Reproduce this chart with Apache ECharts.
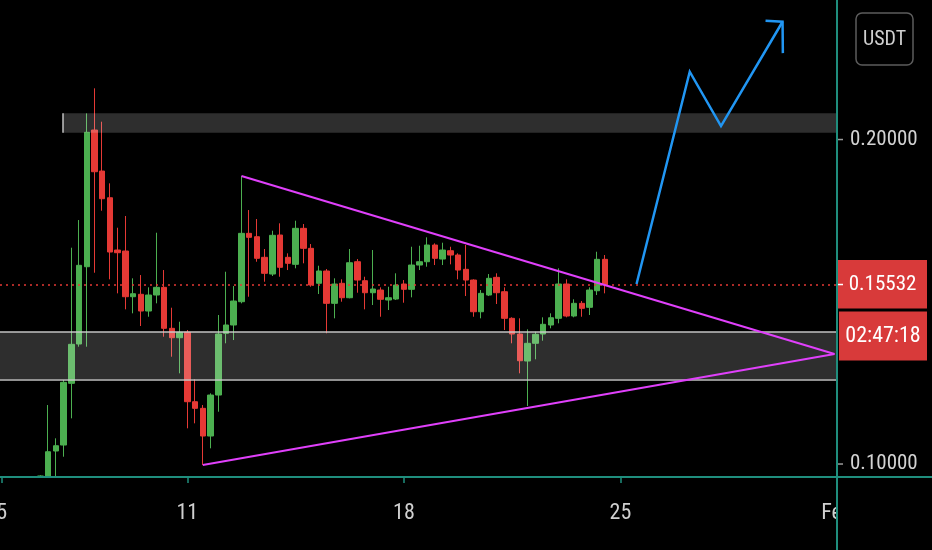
<!DOCTYPE html>
<html><head><meta charset="utf-8">
<script src="https://cdn.jsdelivr.net/npm/echarts@6/dist/echarts.min.js"></script>
<style>html,body{margin:0;padding:0;background:#000;}#c{width:932px;height:550px;}</style>
</head><body><div id="c"></div>
<script>
// ---- data ----
const xTickDays = [0, 6, 13, 20, 27];
const xTickLabels = ['5', '11', '18', '25', 'Feb'];
const yTickValues = [0.10, 0.15, 0.20];
const firstCandleDay = 1.25;      // Jan 6 06:00, 6h candles
const candleStepDays = 0.25;
// [open, close, low, high]
const ohlc = [
  [0.0962, 0.0963, 0.0958, 0.0965],
  [0.09609, 0.10379, 0.0958, 0.11818],
  [0.10401, 0.10564, 0.09609, 0.10792],
  [0.10585, 0.12518, 0.10225, 0.12589],
  [0.12487, 0.13689, 0.11408, 0.16666],
  [0.13698, 0.16123, 0.13615, 0.17519],
  [0.16080, 0.20222, 0.13615, 0.20807],
  [0.20293, 0.19008, 0.15895, 0.21578],
  [0.19029, 0.18176, 0.17806, 0.20549],
  [0.18206, 0.16533, 0.15692, 0.18650],
  [0.16595, 0.16512, 0.15260, 0.17282],
  [0.16564, 0.15156, 0.14767, 0.17643],
  [0.15156, 0.15248, 0.14644, 0.15723],
  [0.15230, 0.14715, 0.14253, 0.15824],
  [0.14715, 0.15208, 0.14539, 0.15445],
  [0.15208, 0.15445, 0.14952, 0.17128],
  [0.15445, 0.14182, 0.13923, 0.15978],
  [0.14182, 0.13892, 0.13307, 0.14817],
  [0.13892, 0.14059, 0.12795, 0.14385],
  [0.14059, 0.11920, 0.11100, 0.14129],
  [0.11920, 0.11716, 0.11254, 0.12610],
  [0.11716, 0.10863, 0.09969, 0.11818],
  [0.10863, 0.12126, 0.10484, 0.12179],
  [0.12126, 0.14006, 0.11612, 0.14592],
  [0.14028, 0.14284, 0.13720, 0.15926],
  [0.14284, 0.15023, 0.13821, 0.15485],
  [0.15002, 0.17109, 0.14952, 0.18875],
  [0.17109, 0.16986, 0.15156, 0.17827],
  [0.17005, 0.16339, 0.16234, 0.17550],
  [0.16370, 0.15877, 0.15618, 0.16626],
  [0.15855, 0.17048, 0.15794, 0.17190],
  [0.17057, 0.16062, 0.15772, 0.17418],
  [0.16370, 0.16185, 0.15978, 0.16493],
  [0.16154, 0.17263, 0.16031, 0.17498],
  [0.17263, 0.16647, 0.16185, 0.17396],
  [0.16647, 0.15516, 0.15464, 0.16780],
  [0.15569, 0.15948, 0.15239, 0.16111],
  [0.15948, 0.14952, 0.14028, 0.16009],
  [0.14952, 0.15547, 0.14490, 0.15723],
  [0.15569, 0.15125, 0.15002, 0.15692],
  [0.15125, 0.16203, 0.15106, 0.16626],
  [0.16234, 0.15670, 0.15279, 0.16317],
  [0.15649, 0.15279, 0.14767, 0.15772],
  [0.15279, 0.15393, 0.14900, 0.16595],
  [0.15362, 0.15076, 0.14539, 0.15445],
  [0.15054, 0.15125, 0.14746, 0.15464],
  [0.15085, 0.15516, 0.15054, 0.15877],
  [0.15547, 0.15384, 0.14971, 0.15670],
  [0.15384, 0.16132, 0.15137, 0.16696],
  [0.16132, 0.16234, 0.15978, 0.16727],
  [0.16234, 0.16749, 0.16080, 0.16986],
  [0.16749, 0.16339, 0.16132, 0.16801],
  [0.16317, 0.16595, 0.16132, 0.16820],
  [0.16573, 0.16441, 0.16154, 0.16696],
  [0.16441, 0.15978, 0.15692, 0.16493],
  [0.16000, 0.15670, 0.15177, 0.16749],
  [0.15670, 0.14693, 0.14539, 0.15692],
  [0.14693, 0.15260, 0.14490, 0.15362],
  [0.15208, 0.15723, 0.15177, 0.15855],
  [0.15753, 0.15279, 0.14931, 0.15877],
  [0.15310, 0.14490, 0.14129, 0.15445],
  [0.14490, 0.14006, 0.13720, 0.14521],
  [0.14006, 0.13183, 0.12795, 0.14490],
  [0.13174, 0.13720, 0.11787, 0.14151],
  [0.13720, 0.13997, 0.13227, 0.14077],
  [0.14006, 0.14305, 0.13800, 0.14521],
  [0.14284, 0.14508, 0.14182, 0.14644],
  [0.14490, 0.15547, 0.14336, 0.16031],
  [0.15547, 0.14561, 0.14521, 0.15692],
  [0.14561, 0.14952, 0.14521, 0.15076],
  [0.14952, 0.14798, 0.14539, 0.15023],
  [0.14829, 0.15362, 0.14592, 0.15445],
  [0.15340, 0.16308, 0.15208, 0.16542],
  [0.16308, 0.15532, 0.15260, 0.16441]
];
const lastPrice = 0.15532;
const countdown = '02:47:18';
const quoteCurrency = 'USDT';
const upperTrend = [[7.75, 0.18875], [26.92, 0.1339]];
const lowerTrend = [[6.5, 0.09969], [26.92, 0.1339]];
const projection = [[20.52, 0.15547], [22.24, 0.22089], [23.25, 0.20416], [25.24, 0.23630]];
const arrowHead = [[24.69, 0.23661], [25.24, 0.23630], [25.25, 0.22663]];
const resistanceZone = [1.98, 0.20210, 0.20807];   // [startDay, low, high]
const supportZone = [0.12610, 0.14077];            // [low, high]
const xRange = [-0.055, 27];
const yRange = [0.0960, 0.2430];

// ---- style / layout ----
const W = 932, H = 550;
const gridRight = 95, gridBottom = 73;
const FONT = "'Liberation Sans Narrow', 'Roboto Condensed', 'Arial Narrow', Roboto, sans-serif";
const UP = '#4caf50', DOWN = '#e53935', TEAL = '#1f8e7d';

const candles = ohlc.map((r, k) => [firstCandleDay + k * candleStepDays, r[0], r[1], r[2], r[3]]);

const chart = echarts.init(document.getElementById('c'), null, {renderer: 'canvas', width: W, height: H});
const option = {
  backgroundColor: '#000000',
  animation: false,
  grid: {left: 0, right: gridRight, top: 0, bottom: gridBottom, containLabel: false, outerBoundsMode: 'none'},
  xAxis: {
    type: 'value', min: xRange[0], max: xRange[1],
    axisLine: {show: false}, splitLine: {show: false},
    axisTick: {show: true, customValues: xTickDays, length: 6, lineStyle: {color: TEAL, width: 1.5}},
    axisLabel: {
      customValues: xTickDays, color: '#cfcfcf', fontSize: 22, fontFamily: FONT, margin: 25,
      formatter: v => { const k = xTickDays.findIndex(d => Math.abs(d - v) < 1e-6); return k >= 0 ? xTickLabels[k] : ''; }
    }
  },
  yAxis: {
    type: 'value', position: 'right', min: yRange[0], max: yRange[1],
    axisLine: {show: false}, splitLine: {show: false}, axisTick: {show: false},
    axisLabel: {customValues: yTickValues, color: '#d2d2d2', fontSize: 21, fontFamily: FONT, margin: 13,
      formatter: v => v.toFixed(5)}
  },
  series: [
    {
      type: 'candlestick', z: 2, barWidth: 6, silent: true,
      data: candles,
      itemStyle: {color: UP, color0: DOWN, borderColor: UP, borderColor0: DOWN, borderWidth: 1},
      markLine: {
        silent: true, symbol: ['none', 'none'], z: 3, precision: 6, label: {show: false},
        lineStyle: {color: DOWN, type: [2, 4], width: 1.5},
        data: [{yAxis: lastPrice}]
      }
    },
    {
      type: 'line', data: [], z: 3, silent: true,
      markArea: {
        silent: true, z: 3,
        itemStyle: {color: 'rgba(255,255,255,0.18)'},
        data: [
          [{coord: [resistanceZone[0], resistanceZone[2]]}, {coord: [xRange[1], resistanceZone[1]]}],
          [{coord: [xRange[0], supportZone[1]]}, {coord: [xRange[1], supportZone[0]]}]
        ]
      },
      markLine: {
        silent: true, symbol: ['none', 'none'], z: 3, precision: 6, label: {show: false},
        lineStyle: {color: 'rgba(205,205,205,0.7)', width: 2, type: 'solid'},
        data: [
          {yAxis: supportZone[0]}, {yAxis: supportZone[1]},
          [{coord: [resistanceZone[0], resistanceZone[1]]}, {coord: [resistanceZone[0], resistanceZone[2]]}]
        ]
      }
    },
    {type: 'line', data: upperTrend, z: 4, silent: true, showSymbol: false, symbol: 'none',
      lineStyle: {color: '#e040fb', width: 2}},
    {type: 'line', data: lowerTrend, z: 4, silent: true, showSymbol: false, symbol: 'none',
      lineStyle: {color: '#e040fb', width: 2}},
    {type: 'line', data: projection, z: 4, silent: true, showSymbol: false, symbol: 'none',
      lineStyle: {color: '#2196f3', width: 2.5, join: 'miter'}},
    {type: 'line', data: arrowHead, z: 4, silent: true, showSymbol: false, symbol: 'none',
      lineStyle: {color: '#2196f3', width: 2.5, join: 'miter'}}
  ]
};
chart.setOption(option);

const axisX = W - gridRight, axisY = H - gridBottom;
const py = chart.convertToPixel({yAxisIndex: 0}, lastPrice);
const yTicks = yTickValues.map(v => {
  const ty = chart.convertToPixel({yAxisIndex: 0}, v);
  return {type: 'line', z: 40, shape: {x1: axisX + 1, y1: ty, x2: axisX + 6, y2: ty}, style: {stroke: '#9a9a9a', lineWidth: 1.5}};
});
chart.setOption({
  graphic: yTicks.concat([
    {type: 'rect', z: 50, shape: {x: axisX + 1, y: axisY + 1, width: W - axisX, height: H - axisY}, style: {fill: '#000'}},
    {type: 'line', z: 60, shape: {x1: axisX, y1: 0, x2: axisX, y2: H}, style: {stroke: TEAL, lineWidth: 2}},
    {type: 'line', z: 60, shape: {x1: 0, y1: axisY, x2: W, y2: axisY}, style: {stroke: TEAL, lineWidth: 2}},
    {type: 'rect', z: 70, shape: {x: axisX + 1, y: py - 24.5, width: 89, height: 48.5}, style: {fill: '#d83a3a'}},
    {type: 'line', z: 71, shape: {x1: axisX + 1, y1: py, x2: axisX + 6, y2: py}, style: {stroke: '#ffffff', lineWidth: 1.5}},
    {type: 'text', z: 71, x: axisX + 45.5, y: py, style: {text: lastPrice.toFixed(5), fill: '#ffffff', fontSize: 21, fontFamily: FONT, align: 'center', verticalAlign: 'middle'}},
    {type: 'rect', z: 70, shape: {x: axisX + 2, y: py + 27, width: 88, height: 49}, style: {fill: '#d83a3a'}},
    {type: 'text', z: 71, x: axisX + 46, y: py + 51.5, style: {text: countdown, fill: '#ffffff', fontSize: 22, fontFamily: FONT, align: 'center', verticalAlign: 'middle'}},
    {type: 'rect', z: 70, shape: {x: 856, y: 13, width: 57, height: 52, r: 6}, style: {fill: 'none', stroke: '#5c5c5c', lineWidth: 1.5}},
    {type: 'text', z: 71, x: 884.5, y: 39.5, style: {text: quoteCurrency, fill: '#cfcfcf', fontSize: 20, fontFamily: FONT, align: 'center', verticalAlign: 'middle'}}
  ])
});
</script></body></html>
